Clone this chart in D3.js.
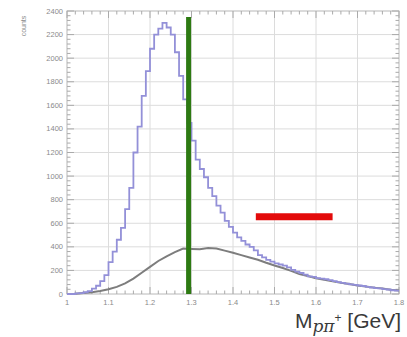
<!DOCTYPE html>
<html>
<head>
<meta charset="utf-8">
<script src="https://cdn.jsdelivr.net/npm/d3@7"></script>
<style>
  html, body { margin: 0; padding: 0; background: #fff; }
  svg { display: block; font-family: "Liberation Sans", Arial, sans-serif; }
</style>
</head>
<body>
<div id="chart"></div>
<script>
// histogram bins: 1.00 .. 1.80 GeV, 0.01 wide
var binStart = 1.0,
    binWidth = 0.01;

// p pi+ invariant mass spectrum (blue)
var dataCounts = [
    0, 0, 5, 8, 15, 25, 45, 70, 110, 160,
    270, 360, 460, 560, 720, 900, 1200, 1420, 1680, 1890,
    2080, 2200, 2250, 2300, 2260, 2200, 2050, 1850, 1650, 1450,
    1300, 1140, 1060, 990, 900, 830, 750, 690, 620, 570,
    520, 480, 450, 420, 400, 370, 330, 310, 290, 275,
    260, 250, 240, 225, 205, 190, 178, 165, 150, 145,
    135, 130, 125, 118, 110, 100, 95, 88, 82, 78,
    72, 68, 60, 55, 50, 48, 42, 38, 32, 28
];

// background curve (grey)
var bgMass = [
    1.00, 1.02, 1.04, 1.06, 1.08, 1.10, 1.12, 1.14, 1.16, 1.18,
    1.20, 1.22, 1.24, 1.26, 1.28, 1.30, 1.32, 1.34, 1.36, 1.38,
    1.40, 1.42, 1.44, 1.46, 1.48, 1.50, 1.52, 1.54, 1.56, 1.58,
    1.60, 1.62, 1.64, 1.66, 1.68, 1.70, 1.72, 1.74, 1.76, 1.78, 1.80
];
var bgCounts = [
    0, 2, 8, 15, 25, 40, 60, 90, 130, 180,
    230, 280, 320, 355, 385, 382, 380, 390, 385, 368,
    350, 330, 310, 290, 265, 242, 220, 196, 170, 152,
    134, 120, 107, 96, 84, 73, 63, 54, 46, 37, 30
];

// annotations: green cut line and red band
var cutMass = 1.293, cutTop = 2350;
var bandFrom = 1.455, bandTo = 1.64, bandLevel = 655;

var xTicks = [1, 1.1, 1.2, 1.3, 1.4, 1.5, 1.6, 1.7, 1.8];
var yTicks = [0, 200, 400, 600, 800, 1000, 1200, 1400, 1600, 1800, 2000, 2200, 2400];

var width = 407, height = 337;
var margin = { top: 11, right: 8, bottom: 43, left: 67 };

var svg = d3.select("#chart").append("svg")
    .attr("width", width)
    .attr("height", height);

var x = d3.scaleLinear().domain([1, 1.8]).range([margin.left, width - margin.right]);
var y = d3.scaleLinear().domain([0, 2400]).range([height - margin.bottom, margin.top]);

// grid
svg.append("g")
    .selectAll("line")
    .data(xTicks.slice(1, -1))
    .enter().append("line")
    .attr("x1", function(d) { return x(d); })
    .attr("x2", function(d) { return x(d); })
    .attr("y1", y(0))
    .attr("y2", y(2400))
    .attr("stroke", "#dcdcdc")
    .attr("stroke-width", 1);

svg.append("g")
    .selectAll("line")
    .data(yTicks.slice(1, -1))
    .enter().append("line")
    .attr("x1", x(1))
    .attr("x2", x(1.8))
    .attr("y1", function(d) { return y(d); })
    .attr("y2", function(d) { return y(d); })
    .attr("stroke", "#dcdcdc")
    .attr("stroke-width", 1);

// frame
svg.append("rect")
    .attr("x", x(1))
    .attr("y", y(2400))
    .attr("width", x(1.8) - x(1))
    .attr("height", y(0) - y(2400))
    .attr("fill", "none")
    .attr("stroke", "#b8b8b8")
    .attr("stroke-width", 1);

// minor + major ticks on all four sides
var tickColor = "#aaa";
var yMinor = d3.range(0, 2401, 40);
var xMinor = d3.range(0, 41).map(function(i) { return 1 + i * 0.02; });

function isMajorY(v) { return v % 200 === 0; }
function isMajorX(v) { return Math.abs(v * 10 - Math.round(v * 10)) < 1e-6; }

[x(1), x(1.8)].forEach(function(px, side) {
    svg.append("g").selectAll("line")
        .data(yMinor)
        .enter().append("line")
        .attr("x1", px)
        .attr("x2", function(d) { var l = isMajorY(d) ? 7 : 3.5; return side ? px - l : px + l; })
        .attr("y1", function(d) { return y(d); })
        .attr("y2", function(d) { return y(d); })
        .attr("stroke", tickColor)
        .attr("stroke-width", 1);
});

[y(0), y(2400)].forEach(function(py, side) {
    svg.append("g").selectAll("line")
        .data(xMinor)
        .enter().append("line")
        .attr("x1", function(d) { return x(d); })
        .attr("x2", function(d) { return x(d); })
        .attr("y1", py)
        .attr("y2", function(d) { var l = isMajorX(d) ? 7 : 3.5; return side ? py + l : py - l; })
        .attr("stroke", tickColor)
        .attr("stroke-width", 1);
});

// tick labels
svg.append("g").selectAll("text")
    .data(yTicks)
    .enter().append("text")
    .attr("x", x(1) - 4)
    .attr("y", function(d) { return y(d) + 2.5; })
    .attr("text-anchor", "end")
    .attr("font-size", 7.5)
    .attr("fill", "#8a8a8a")
    .text(function(d) { return d; });

svg.append("g").selectAll("text")
    .data(xTicks)
    .enter().append("text")
    .attr("x", function(d) { return x(d); })
    .attr("y", y(0) + 11)
    .attr("text-anchor", "middle")
    .attr("font-size", 7.5)
    .attr("fill", "#8a8a8a")
    .text(function(d) { return d3.format("~g")(d); });

svg.append("text")
    .attr("transform", "translate(26,26) rotate(-90)")
    .attr("text-anchor", "middle")
    .attr("font-size", 7)
    .attr("fill", "#888")
    .text("counts");

// background curve
var bgLine = d3.line()
    .x(function(d, i) { return x(bgMass[i]); })
    .y(function(d) { return y(d); });

svg.append("path")
    .datum(bgCounts)
    .attr("d", bgLine)
    .attr("fill", "none")
    .attr("stroke", "#7d7d7d")
    .attr("stroke-width", 2);

// histogram outline
var histPts = dataCounts.map(function(v, i) { return [binStart + i * binWidth, v]; });
histPts.push([binStart + dataCounts.length * binWidth, dataCounts[dataCounts.length - 1]]);

var histLine = d3.line()
    .x(function(d) { return x(d[0]); })
    .y(function(d) { return y(d[1]); })
    .curve(d3.curveStepAfter);

svg.append("path")
    .datum(histPts)
    .attr("d", histLine)
    .attr("fill", "none")
    .attr("stroke", "#9390d8")
    .attr("stroke-width", 1.8);

// green cut
svg.append("line")
    .attr("x1", x(cutMass))
    .attr("x2", x(cutMass))
    .attr("y1", y(0))
    .attr("y2", y(cutTop))
    .attr("stroke", "#2d7a12")
    .attr("stroke-width", 5);

// red band
svg.append("line")
    .attr("x1", x(bandFrom))
    .attr("x2", x(bandTo))
    .attr("y1", y(bandLevel))
    .attr("y2", y(bandLevel))
    .attr("stroke", "#e30b0b")
    .attr("stroke-width", 7);

// axis title
var title = svg.append("text")
    .attr("x", width - 6)
    .attr("y", 328)
    .attr("text-anchor", "end")
    .attr("font-size", 21)
    .attr("fill", "#3a3a3a");
title.append("tspan").text("M");
title.append("tspan")
    .attr("dy", 4)
    .attr("font-family", "'DejaVu Serif', serif")
    .attr("font-style", "italic")
    .attr("font-size", 17)
    .text("p\u03c0");
title.append("tspan")
    .attr("dy", -10)
    .attr("font-size", 12)
    .text("+");
title.append("tspan")
    .attr("dy", 6)
    .text(" [GeV]");
</script>
</body>
</html>
